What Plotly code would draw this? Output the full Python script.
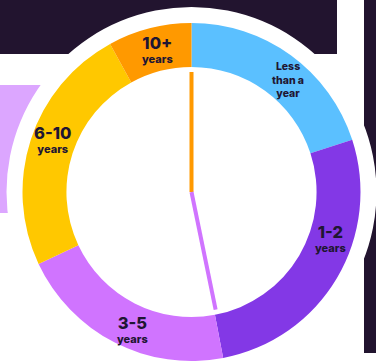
import plotly.graph_objects as go

W, H = 376, 362

# ---- data ----
categories = ["Less than a year", "1-2 years", "3-5 years", "6-10 years", "10+ years"]
shares = [20, 27, 21, 24, 8]
colors = ["#5bc0ff", "#8338e6", "#d074ff", "#ffc800", "#ff9900"]
label_main = ["Less<br>than a<br>year", "1-2", "3-5", "6-10", "10+"]
label_sub = ["", "years", "years", "years", "years"]
hand_angles = [0, 168.4]
hand_lengths = [0.71, 0.71]
hand_colors = ["#ff9900", "#d074ff"]

DARK = "#22142f"
TEXT = "#1f1633"

# geometry in pixels
cx, cy, R = 191.5, 192.0, 169.0
def px(x):
    return x / W
def py(y):
    return (H - y) / H

dom_x = [px(cx - R), px(cx + R)]
dom_y = [py(cy + R), py(cy - R)]

fig = go.Figure()
fig.add_trace(go.Pie(
    labels=categories, values=shares, sort=False, direction="clockwise", rotation=0,
    hole=0.74, marker=dict(colors=colors, line=dict(width=0)),
    textinfo="none", hoverinfo="label+percent", showlegend=False,
    domain=dict(x=dom_x, y=dom_y),
))

for ang, ln, col in zip(hand_angles, hand_lengths, hand_colors):
    fig.add_trace(go.Scatterpolar(
        r=[0, ln], theta=[ang, ang], mode="lines",
        line=dict(color=col, width=4), showlegend=False, hoverinfo="skip",
    ))

fig.update_layout(
    width=W, height=H, margin=dict(l=0, r=0, t=0, b=0),
    paper_bgcolor="white", plot_bgcolor="white",
    polar=dict(
        domain=dict(x=dom_x, y=dom_y), bgcolor="rgba(0,0,0,0)",
        angularaxis=dict(visible=False, rotation=90, direction="clockwise"),
        radialaxis=dict(visible=False, range=[0, 1]),
    ),
)

# background decorations
shapes = [
    dict(type="rect", xref="paper", yref="paper", x0=0, x1=px(337), y0=py(54), y1=1,
         fillcolor=DARK, line=dict(width=0), layer="below"),
    dict(type="rect", xref="paper", yref="paper", x0=px(364), x1=1, y0=py(353), y1=1,
         fillcolor=DARK, line=dict(width=0), layer="below"),
    dict(type="rect", xref="paper", yref="paper", x0=0, x1=px(120), y0=py(213), y1=py(85),
         fillcolor="#dca6ff", line=dict(width=0), layer="below"),
    dict(type="circle", xref="paper", yref="paper", x0=px(cx - 185), x1=px(cx + 185),
         y0=py(cy + 185), y1=py(cy - 185),
         fillcolor="white", line=dict(width=0), layer="below"),
]
fig.update_layout(shapes=shapes)

# labels: pixel centre of each label block
label_pos = [(288, 80), (330, 238), (132, 329), (52, 139), (157, 49)]
ann = []
for i, t in enumerate(label_main):
    x, y = label_pos[i]
    if label_sub[i]:
        txt = f"<span style='font-size:16.5px'>{t}</span><br>{label_sub[i]}"
        size = 11
    else:
        txt = t
        size = 10.5
    ann.append(dict(x=px(x), y=py(y), xref="paper", yref="paper", text=txt,
                    showarrow=False,
                    font=dict(family="Inter", size=size, color=TEXT, weight=800),
                    xanchor="center", yanchor="middle"))
fig.update_layout(annotations=ann)

fig.write_html("out.html", config={"displayModeBar": False},
               post_script="document.body.style.margin='0';")
